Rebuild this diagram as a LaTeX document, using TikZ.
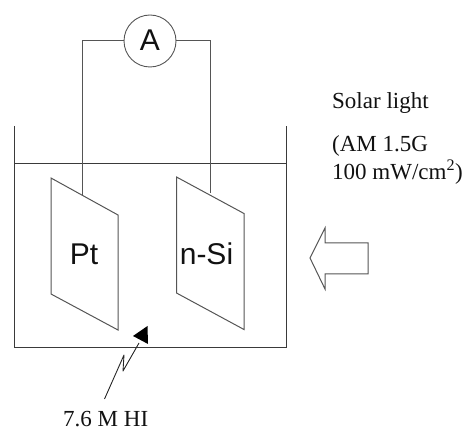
\documentclass[tikz,border=0pt]{standalone}
\usepackage{fontspec}
\setmainfont{Liberation Serif}
\setsansfont{Liberation Sans}
\definecolor{linegray}{HTML}{555555}
\definecolor{tankgray}{HTML}{3A3A3A}
\definecolor{txt}{HTML}{111111}
\tikzset{
  wire/.style={draw=linegray,line width=1pt},
  tank/.style={draw=tankgray,line width=0.9pt},
  sanslabel/.style={font=\sffamily\fontsize{30}{30}\selectfont,text=txt,inner sep=0pt,anchor=base},
  seriflabel/.style={font=\fontsize{23}{23}\selectfont,text=txt,inner sep=0pt,anchor=base west},
}
\begin{document}
\begin{tikzpicture}[x=1pt,y=-1pt]
\useasboundingbox (0,0) rectangle (466,430);
% corner coordinates
\coordinate (wl) at (82,41);
\coordinate (wr) at (210,41);
\coordinate (pl) at (82,195);
\coordinate (pr) at (210,193);
\coordinate (tl) at (14.5,126);
\coordinate (bl) at (14.5,347);
\coordinate (br) at (286.5,347);
\coordinate (tr) at (286.5,126);
\coordinate (wal) at (14.5,163.5);
\coordinate (war) at (286.5,163.5);
% tank and liquid level
\draw[tank] (tl) -- (bl) -- (br) -- (tr);
\draw[tank] (wal) -- (war);
% electrodes
\draw[wire,line join=miter] (51,178) -- (118,215) -- (118,330) -- (51,294) -- cycle;
\draw[wire,line join=miter] (176.5,177) -- (244,213.5) -- (244,329.5) -- (176.5,293) -- cycle;
% ammeter and wires
\node[circle,draw=linegray,line width=0.9pt,minimum size=52pt,inner sep=0pt] (amm) at (150,41) {};
\node[sanslabel] (ammtxt) at (150,51) {A};
\draw[wire] (amm.west) -- (wl) -- (pl);
\draw[wire] (amm.east) -- (wr) -- (pr);
% electrode labels
\node[sanslabel] (pt) at (84,265) {Pt};
\node[sanslabel] (nsi) at (206.5,265) {n-Si};
% electrolyte pointer
\coordinate (ps) at (104.5,399);
\coordinate (pa) at (124,355);
\coordinate (pb) at (123,371);
\coordinate (pc) at (139,343);
\draw[draw=black!85,line width=0.9pt,line join=round] (ps) -- (pa) -- (pb) -- (pc);
\fill[black] (147.5,326) -- (133,336) -- (148,344) -- cycle;
\node[seriflabel] (hi) at (63,426) {7.6 M HI};
% light
\node[seriflabel] (sol) at (332,109) {Solar light};
\node[seriflabel] (am) at (332,152) {(AM 1.5G};
\node[seriflabel] (pow) at (332,180) {100 mW/cm\textsuperscript{2})};
\draw[wire,line join=miter] (310,258) -- (325,228) -- (325,243) -- (368,243) -- (368,274) -- (325,274) -- (325,289) -- cycle;
\end{tikzpicture}
\end{document}
